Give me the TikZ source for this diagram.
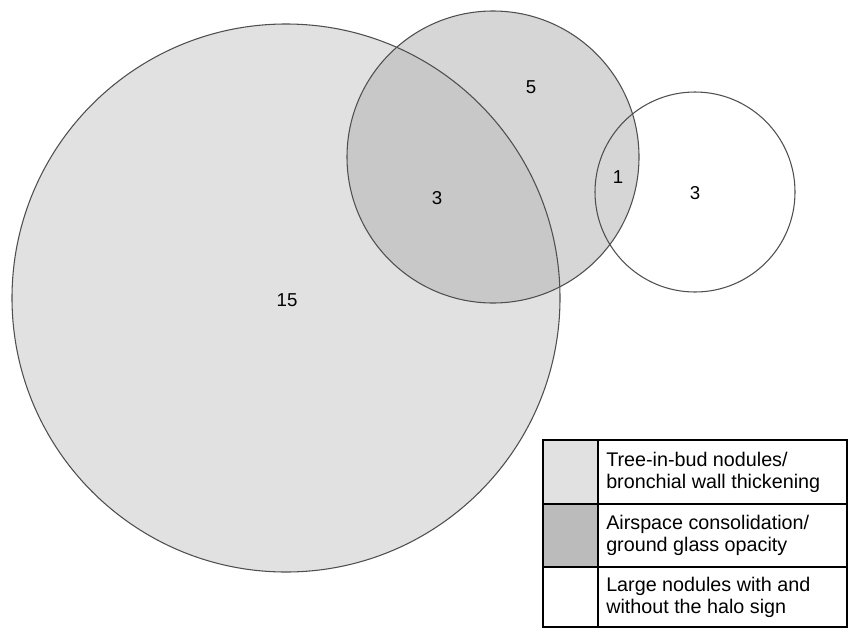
\documentclass[tikz,border=0pt]{standalone}
\usepackage{fontspec}
\setmainfont{Liberation Sans}
\definecolor{budgray}{HTML}{E1E1E1}
\definecolor{airgray}{HTML}{D6D6D6}
\definecolor{bothgray}{HTML}{C8C8C8}
\definecolor{swatchgray}{HTML}{BBBBBB}
\definecolor{rimgray}{HTML}{4F4F4F}
\tikzset{
  rim/.style={draw=rimgray, line width=0.8pt},
  count/.style={inner sep=0.75pt, font=\fontsize{14}{16}\selectfont},
  legtext/.style={anchor=west, inner sep=0.75pt, align=left, font=\fontsize{14.8}{16.5}\selectfont}
}
\begin{document}
\begin{tikzpicture}[x=0.75pt,y=0.75pt,yscale=-1,xscale=1]
\useasboundingbox (0,0) rectangle (848,632);
% Circle centres
\coordinate (cBud) at (286,298);
\coordinate (cAir) at (493,157);
\coordinate (cHalo) at (695,192);
% Shape: Circle fills
\fill[budgray] (cBud) circle (274);
\fill[airgray] (cAir) circle (146);
\begin{scope}
  \clip (cBud) circle (274);
  \fill[bothgray] (cAir) circle (146);
\end{scope}
% Shape: Circle outlines
\draw[rim] (cBud) circle (274);
\draw[rim] (cAir) circle (146);
\draw[rim] (cHalo) circle (100);
% Text Node
\node[count] (nBud) at (287,300) {15};
\node[count] (nBoth) at (437,198) {3};
\node[count] (nAir) at (531,87) {5};
\node[count] (nAirHalo) at (618,177) {1};
\node[count] (nHalo) at (695,193) {3};
% Legend swatches
\fill[budgray] (543,440) rectangle (598,504);
\fill[swatchgray] (543,504) rectangle (598,567);
% Legend grid
\draw[line width=0.9pt] (598,440) -- (598,627);
\draw[line width=0.9pt] (543,504) -- (847,504);
\draw[line width=0.9pt] (543,567) -- (847,567);
\draw[line width=1.8pt] (543,440) rectangle (847,627);
% Legend Text
\node[legtext] (tBud) at (605,472) {Tree-in-bud nodules/\\bronchial wall thickening};
\node[legtext] (tAir) at (605,535.5) {Airspace consolidation/\\ground glass opacity};
\node[legtext] (tHalo) at (605,597) {Large nodules with and\\without the halo sign};
\end{tikzpicture}
\end{document}
